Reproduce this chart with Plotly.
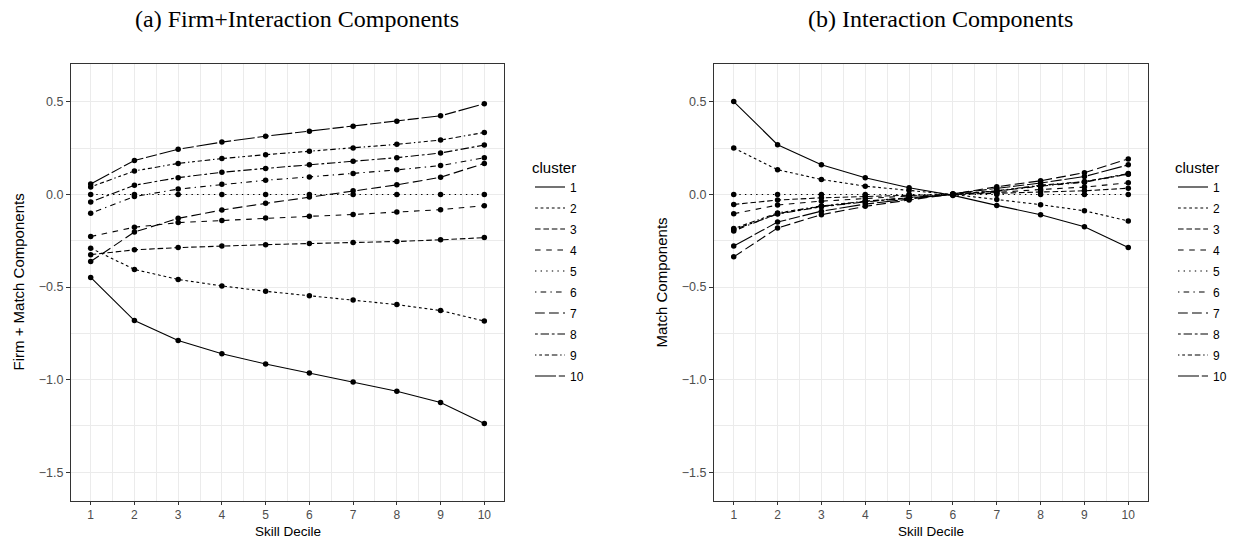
import plotly.graph_objects as go

# ---------------- data ----------------
deciles = [1, 2, 3, 4, 5, 6, 7, 8, 9, 10]
clusters = ["1", "2", "3", "4", "5", "6", "7", "8", "9", "10"]

# (a) Firm + Match components
firm_match = {
    "1": [-0.448, -0.681, -0.789, -0.860, -0.916, -0.964, -1.013, -1.063, -1.124, -1.237],
    "2": [-0.290, -0.405, -0.459, -0.494, -0.523, -0.547, -0.570, -0.595, -0.627, -0.684],
    "3": [-0.325, -0.299, -0.287, -0.278, -0.271, -0.265, -0.260, -0.254, -0.245, -0.233],
    "4": [-0.227, -0.177, -0.152, -0.140, -0.127, -0.118, -0.108, -0.095, -0.082, -0.061],
    "5": [0.000, 0.000, 0.000, 0.000, 0.000, 0.000, 0.000, 0.000, 0.000, 0.000],
    "6": [-0.102, -0.011, 0.029, 0.055, 0.077, 0.095, 0.113, 0.133, 0.156, 0.199],
    "7": [-0.362, -0.203, -0.129, -0.084, -0.048, -0.014, 0.020, 0.052, 0.093, 0.168],
    "8": [-0.041, 0.050, 0.091, 0.120, 0.141, 0.161, 0.179, 0.199, 0.224, 0.267],
    "9": [0.041, 0.127, 0.168, 0.194, 0.215, 0.233, 0.251, 0.271, 0.294, 0.335],
    "10": [0.057, 0.184, 0.244, 0.283, 0.315, 0.342, 0.369, 0.396, 0.425, 0.490],
}

# (b) Interaction (match) components
match_comp = {
    "1": [0.502, 0.269, 0.161, 0.090, 0.036, -0.005, -0.059, -0.109, -0.174, -0.287],
    "2": [0.251, 0.134, 0.081, 0.045, 0.022, 0.000, -0.027, -0.055, -0.088, -0.143],
    "3": [-0.054, -0.030, -0.018, -0.010, -0.004, 0.000, 0.006, 0.016, 0.020, 0.034],
    "4": [-0.104, -0.057, -0.036, -0.021, -0.008, 0.000, 0.011, 0.027, 0.040, 0.063],
    "5": [0.000, 0.000, 0.000, 0.000, 0.000, 0.000, 0.000, 0.000, 0.000, 0.000],
    "6": [-0.197, -0.103, -0.064, -0.038, -0.017, 0.000, 0.019, 0.045, 0.066, 0.111],
    "7": [-0.337, -0.181, -0.109, -0.064, -0.030, 0.002, 0.042, 0.074, 0.118, 0.192],
    "8": [-0.190, -0.106, -0.066, -0.040, -0.020, 0.000, 0.018, 0.048, 0.068, 0.113],
    "9": [-0.184, -0.100, -0.062, -0.036, -0.018, 0.000, 0.020, 0.050, 0.070, 0.109],
    "10": [-0.278, -0.149, -0.090, -0.052, -0.025, 0.004, 0.030, 0.062, 0.097, 0.160],
}

y_tickvals = [0.5, 0.0, -0.5, -1.0, -1.5]
y_ticktext = ["0.5", "0.0", "\u22120.5", "\u22121.0", "\u22121.5"]
y_minor = [0.25, -0.25, -0.75, -1.25]
x_minor = [1.5, 2.5, 3.5, 4.5, 5.5, 6.5, 7.5, 8.5, 9.5]

# ggplot default linetype palette
linetypes = ["solid", "22", "42", "44", "13", "1343", "73", "2262", "12223242", "F282"]

UNIT = 1.4
LW = 1.1


def dash_of(lt):
    if lt == "solid":
        return "solid"
    return ",".join(f"{int(c, 16) * UNIT:.1f}px" for c in lt)


fig = go.Figure()

for panel, data, xa, ya, leg in [
    (0, firm_match, "x", "y", "legend"),
    (1, match_comp, "x2", "y2", "legend2"),
]:
    for i, c in enumerate(clusters):
        fig.add_trace(go.Scatter(
            x=deciles, y=data[c], mode="lines", name=c,
            line=dict(color="black", width=LW, dash=dash_of(linetypes[i])),
            xaxis=xa, yaxis=ya, legend=leg, legendgroup=f"{panel}-{c}",
            showlegend=True,
        ))
    for i, c in enumerate(clusters):
        fig.add_trace(go.Scatter(
            x=deciles, y=data[c], mode="markers",
            marker=dict(color="black", size=5.5),
            xaxis=xa, yaxis=ya, showlegend=False, hoverinfo="skip",
        ))

grid = "#EBEBEB"
border = "#333333"
xtickfont = dict(family="Liberation Sans", size=12, color="#4D4D4D")
ytickfont = dict(family="Liberation Sans", size=12.5, color="#4D4D4D")

xcommon = dict(
    range=[0.55, 10.45], tickvals=deciles, ticktext=[str(d) for d in deciles],
    showgrid=True, gridcolor=grid, gridwidth=1.1, zeroline=False,
    showline=True, linecolor=border, linewidth=1, mirror=True,
    ticks="outside", ticklen=3, tickcolor=border, tickwidth=1,
    tickfont=xtickfont, automargin=False,
    minor=dict(tickvals=x_minor, showgrid=True, gridcolor=grid, gridwidth=0.6, ticklen=0),
)
ycommon = dict(
    range=[-1.656, 0.705], tickvals=y_tickvals, ticktext=y_ticktext,
    showgrid=True, gridcolor=grid, gridwidth=1.1, zeroline=False,
    showline=True, linecolor=border, linewidth=1, mirror=True,
    ticks="outside", ticklen=4, tickcolor=border, tickwidth=1,
    tickfont=ytickfont, automargin=False,
    minor=dict(tickvals=y_minor, showgrid=True, gridcolor=grid, gridwidth=0.6, ticklen=0),
    domain=[1 - 501 / 540, 1 - 64 / 540],
)

legend_common = dict(
    xanchor="left", yanchor="top", y=1 - 153 / 540,
    title=dict(text="cluster", font=dict(family="Liberation Sans", size=15, color="black")),
    font=dict(family="Liberation Sans", size=12, color="black"),
    itemwidth=30, tracegroupgap=2, bgcolor="rgba(0,0,0,0)",
)

xdom1 = [71 / 1242, 504 / 1242]
xdom2 = [714 / 1242, 1148 / 1242]
ymid = 1 - (64 + 501) / 2 / 540


def text_ann(text, x, y, size, family="Liberation Sans", angle=0, yanchor="middle", pad=1):
    return dict(text=text, x=x, y=y, xref="paper", yref="paper",
                xanchor="center", yanchor=yanchor, showarrow=False, textangle=angle,
                borderpad=pad, font=dict(family=family, size=size, color="black"))


fig.update_layout(
    width=1242, height=540,
    margin=dict(l=0, r=0, t=0, b=0, autoexpand=False),
    paper_bgcolor="white", plot_bgcolor="white",
    xaxis=dict(xcommon, domain=xdom1, anchor="y"),
    yaxis=dict(ycommon, anchor="x"),
    xaxis2=dict(xcommon, domain=xdom2, anchor="y2"),
    yaxis2=dict(ycommon, anchor="x2"),
    legend=dict(legend_common, x=530 / 1242),
    legend2=dict(legend_common, x=1173 / 1242),
    showlegend=True,
    annotations=[
        text_ann("(a) Firm+Interaction Components", 297 / 1242, 1 - 19 / 540, 24, "Liberation Serif"),
        text_ann("(b) Interaction Components", 940 / 1242, 1 - 19 / 540, 24, "Liberation Serif"),
        text_ann("Skill Decile", sum(xdom1) / 2, 0.0, 13.5, yanchor="bottom", pad=0),
        text_ann("Skill Decile", sum(xdom2) / 2, 0.0, 13.5, yanchor="bottom", pad=0),
        text_ann("Firm + Match Components", 18 / 1242, ymid, 15, angle=-90),
        text_ann("Match Components", 661 / 1242, ymid, 15, angle=-90),
    ],
)

fig.write_html("out.html")
